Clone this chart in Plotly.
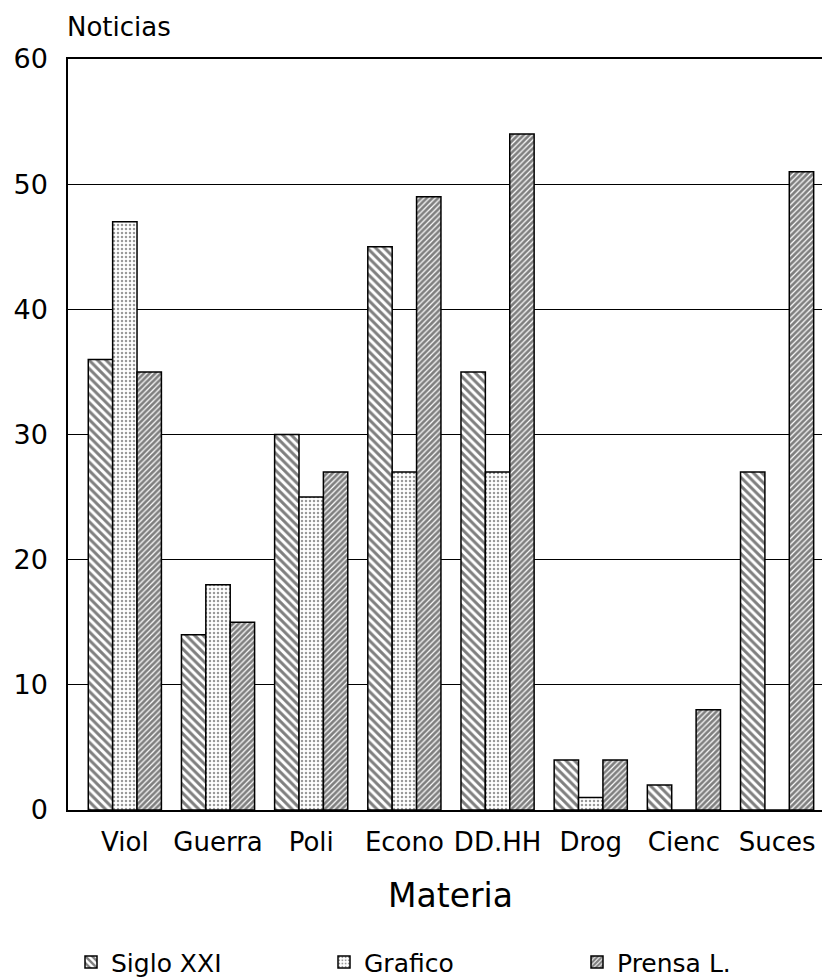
import plotly.graph_objects as go

categories = ["Viol", "Guerra", "Poli", "Econo", "DD.HH", "Drog", "Cienc", "Suces"]
siglo_xxi = [36, 14, 30, 45, 35, 4, 2, 27]
grafico = [47, 18, 25, 27, 27, 1, 0, 0]
prensa_l = [35, 15, 27, 49, 54, 4, 8, 51]
series_names = ["Siglo XXI", "Grafico", "Prensa L."]
y_ticks = [0, 10, 20, 30, 40, 50, 60]

FONT = "DejaVu Sans"

patterns = [
    dict(shape="\\", fgcolor="black", bgcolor="white", size=6, solidity=0.5),
    dict(shape=".", fgcolor="#333333", bgcolor="white", size=4, solidity=0.3),
    dict(shape="/", fgcolor="black", bgcolor="white", size=4, solidity=0.7),
]

fig = go.Figure()
for name, vals, pat in zip(series_names, [siglo_xxi, grafico, prensa_l], patterns):
    fig.add_trace(go.Bar(
        x=list(range(len(categories))), y=vals, name=name,
        marker=dict(color="white", pattern=pat,
                    line=dict(color="black", width=1.5)),
    ))

fig.update_layout(
    width=830, height=980,
    margin=dict(l=60, r=3, t=51, b=178),
    paper_bgcolor="white", plot_bgcolor="white",
    barmode="group", bargap=0.215, bargroupgap=0,
    font=dict(family=FONT, size=24, color="black"),
    showlegend=True,
    legend=dict(orientation="h", x=0.5, xanchor="center", y=-0.172,
                yanchor="top", font=dict(size=25), entrywidth=208,
                itemclick=False, itemdoubleclick=False),
    xaxis=dict(
        tickmode="array", tickvals=list(range(len(categories))),
        ticktext=categories, range=[-0.61, 7.6],
        showline=True, linecolor="black", linewidth=1.5, mirror=True,
        showgrid=False, zeroline=False, ticks="", ticklabelstandoff=8,
        tickfont=dict(size=26),
        title=dict(text="Materia", font=dict(size=33), standoff=28),
    ),
    yaxis=dict(
        range=[0, 60], tickvals=y_ticks,
        showline=True, linecolor="black", linewidth=1.5, mirror=True,
        showgrid=True, gridcolor="black", gridwidth=1,
        zeroline=False, ticks="", ticklabelstandoff=13,
        tickfont=dict(size=27),
    ),
    annotations=[dict(text="Noticias", xref="paper", yref="paper",
                      x=0, y=1, xanchor="left", yanchor="bottom",
                      yshift=15, xshift=-3, showarrow=False,
                      font=dict(size=26))],
)

fig.write_html("out.html")
